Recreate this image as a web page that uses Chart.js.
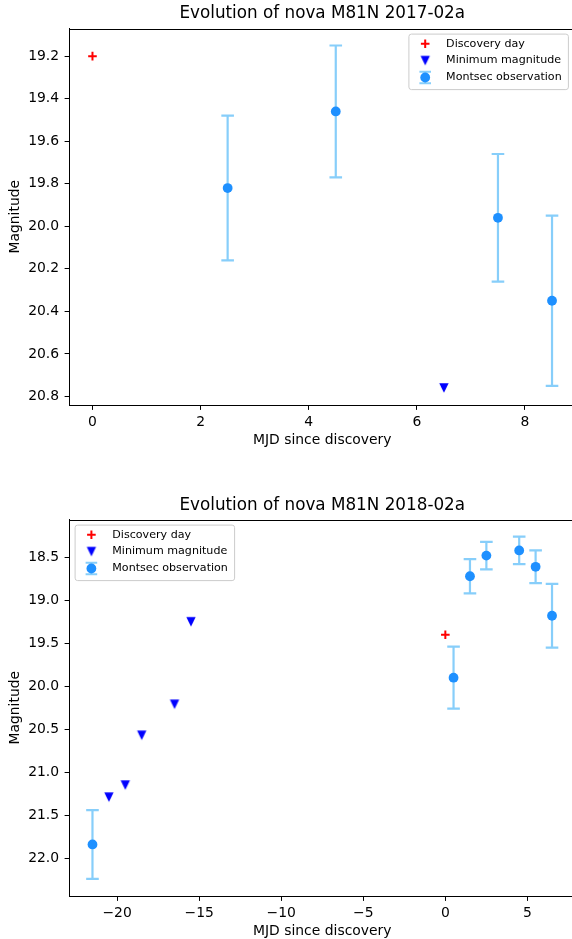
<!DOCTYPE html>
<html><head><meta charset="utf-8">
<script src="https://cdn.jsdelivr.net/npm/chart.js@4.4.0/dist/chart.umd.min.js"></script>
<style>
html,body{margin:0;padding:0;background:#fff;overflow:hidden;width:572px;height:939px;position:relative;}
canvas{position:absolute;left:0;}
#c1{top:0;} #c2{top:491px;}
</style></head><body>
<canvas id="c1" width="576" height="448"></canvas>
<canvas id="c2" width="576" height="448"></canvas>
<script>
// ---------- data: nova M81N 2017-02a ----------
const title17 = "Evolution of nova M81N 2017-02a";
const discX17 = [0];
const discY17 = [19.2];
const minX17 = [6.5];
const minY17 = [20.76];
const obsX17 = [2.5, 4.5, 7.5, 8.5];
const obsY17 = [19.82, 19.46, 19.96, 20.35];
const obsErr17 = [0.34, 0.31, 0.30, 0.40];
const xTicks17 = [0, 2, 4, 6, 8];
const yTicks17 = [19.2, 19.4, 19.6, 19.8, 20.0, 20.2, 20.4, 20.6, 20.8];
const xRange17 = [-0.425, 8.925];
const yRange17 = [19.07, 20.84];

// ---------- data: nova M81N 2018-02a ----------
const title18 = "Evolution of nova M81N 2018-02a";
const discX18 = [0];
const discY18 = [19.4];
const minX18 = [-20.5, -19.5, -18.5, -16.5, -15.5];
const minY18 = [21.29, 21.15, 20.57, 20.21, 19.25];
const obsX18 = [-21.5, 0.5, 1.5, 2.5, 4.5, 5.5, 6.5];
const obsY18 = [21.84, 19.90, 18.72, 18.48, 18.42, 18.61, 19.18];
const obsErr18 = [0.40, 0.36, 0.20, 0.16, 0.16, 0.19, 0.37];
const xTicks18 = [-20, -15, -10, -5, 0, 5];
const yTicks18 = [18.5, 19.0, 19.5, 20.0, 20.5, 21.0, 21.5, 22.0];
const xRange18 = [-22.9, 7.9];
const yRange18 = [18.06, 22.44];

const labels = ["Discovery day", "Minimum magnitude", "Montsec observation"];
const xLabel = "MJD since discovery";
const yLabel = "Magnitude";

// ---------- styling ----------
const FONT = "'DejaVu Sans', sans-serif";
const RED = '#ff0000', BLUE = '#0000ff', DODGER = '#1e90ff', SKY = '#87cefa';

function triangleDown(size, color) {
  const c = document.createElement('canvas');
  const w = Math.ceil(size) + 2;
  c.width = w; c.height = w;
  const g = c.getContext('2d');
  const h = size / 2, m = w / 2;
  g.fillStyle = color;
  g.beginPath();
  g.moveTo(m - h, m - h); g.lineTo(m + h, m - h); g.lineTo(m, m + h);
  g.closePath(); g.fill();
  return c;
}
const TRI = triangleDown(9.4, BLUE);

const zip = (xs, ys) => xs.map((x, i) => ({x: x, y: ys[i]}));

const errorBars = {
  id: 'errorBars',
  beforeDatasetsDraw(chart) {
    const {ctx, scales: {x, y}} = chart;
    chart.data.datasets.forEach(ds => {
      if (!ds.errors) return;
      ctx.save();
      ctx.strokeStyle = SKY; ctx.lineWidth = 2.2;
      ds.data.forEach((p, i) => {
        const px = x.getPixelForValue(p.x);
        const y1 = y.getPixelForValue(p.y - ds.errors[i]);
        const y2 = y.getPixelForValue(p.y + ds.errors[i]);
        ctx.beginPath();
        ctx.moveTo(px, y1); ctx.lineTo(px, y2);
        ctx.moveTo(px - 6.3, y1); ctx.lineTo(px + 6.3, y1);
        ctx.moveTo(px - 6.3, y2); ctx.lineTo(px + 6.3, y2);
        ctx.stroke();
      });
      ctx.restore();
    });
  }
};

const frame = {
  id: 'frame',
  afterDraw(chart, args, opts) {
    const {ctx, chartArea: a} = chart;
    ctx.save();
    ctx.strokeStyle = '#000'; ctx.lineWidth = 1;
    ctx.beginPath();
    ctx.moveTo(a.left, Math.round(a.top) + 0.5);
    ctx.lineTo(a.right, Math.round(a.top) + 0.5);
    ctx.lineTo(a.right, a.bottom);
    ctx.stroke();
    // title, centered over plot area
    ctx.fillStyle = '#000';
    ctx.font = "16.8px " + FONT;
    ctx.textAlign = 'center'; ctx.textBaseline = 'middle';
    ctx.fillText(opts.text, (a.left + a.right) / 2, opts.y);
    ctx.restore();
  }
};

function drawMarker(ctx, ds, cx, cy) {
  if (ds.errors) {
    ctx.strokeStyle = SKY; ctx.lineWidth = 2;
    ctx.beginPath();
    ctx.moveTo(cx, cy - 5.8); ctx.lineTo(cx, cy + 5.8);
    ctx.moveTo(cx - 5.8, cy - 5.8); ctx.lineTo(cx + 5.8, cy - 5.8);
    ctx.moveTo(cx - 5.8, cy + 5.8); ctx.lineTo(cx + 5.8, cy + 5.8);
    ctx.stroke();
  }
  if (ds.pointStyle === 'cross') {
    ctx.strokeStyle = ds.borderColor; ctx.lineWidth = ds.borderWidth;
    const r = ds.pointRadius;
    ctx.beginPath();
    ctx.moveTo(cx - r, cy); ctx.lineTo(cx + r, cy);
    ctx.moveTo(cx, cy - r); ctx.lineTo(cx, cy + r);
    ctx.stroke();
  } else if (ds.pointStyle === 'circle') {
    ctx.fillStyle = ds.backgroundColor;
    ctx.beginPath(); ctx.arc(cx, cy, ds.pointRadius, 0, Math.PI * 2); ctx.fill();
  } else {
    const img = ds.pointStyle;
    ctx.drawImage(img, cx - img.width / 2, cy - img.height / 2);
  }
}

const boxLegend = {
  id: 'boxLegend',
  afterDatasetsDraw(chart, args, opts) {
    const {ctx, chartArea: a} = chart;
    const w = 159.5, h = 55.5, pad = 5.6;
    const x0 = opts.corner === 'right' ? a.right - pad - w - 1 : a.left + pad;
    const y0 = a.top + pad;
    ctx.save();
    ctx.beginPath();
    ctx.roundRect(x0, y0, w, h, 2.5);
    ctx.fillStyle = 'rgba(255,255,255,0.8)'; ctx.fill();
    ctx.strokeStyle = '#cccccc'; ctx.lineWidth = 1; ctx.stroke();
    chart.data.datasets.forEach((ds, i) => {
      const cy = y0 + 9.6 + i * 16.9;
      drawMarker(ctx, ds, x0 + 16.3, cy);
      ctx.fillStyle = '#000';
      ctx.font = "11.1px " + FONT;
      ctx.textAlign = 'left'; ctx.textBaseline = 'middle';
      ctx.fillText(ds.label, x0 + 37.2, cy);
    });
    ctx.restore();
  }
};

function makeChart(id, t, titleY, disc, mins, obs, err, xt, yt, xr, yr, corner) {
  const datasets = [
    {label: labels[0], data: disc, pointStyle: 'cross', pointRadius: 4.3, borderWidth: 2,
     borderColor: RED, backgroundColor: RED, showLine: false},
    {label: labels[1], data: mins, pointStyle: TRI, pointRadius: 5, borderWidth: 0,
     borderColor: BLUE, backgroundColor: BLUE, showLine: false},
    {label: labels[2], data: obs, errors: err, pointStyle: 'circle', pointRadius: 4.9, borderWidth: 0,
     borderColor: DODGER, backgroundColor: DODGER, showLine: false}
  ];
  const tickFont = {family: FONT, size: 13.9};
  return new Chart(document.getElementById(id), {
    type: 'scatter',
    data: {datasets: datasets},
    options: {
      responsive: false, animation: false, devicePixelRatio: 1, events: [],
      layout: {autoPadding: false, padding: {top: 28.5, right: 1, left: 0, bottom: 0}},
      plugins: {
        legend: {display: false}, tooltip: {enabled: false},
        frame: {text: t, y: titleY},
        boxLegend: {corner: corner}
      },
      scales: {
        x: {
          type: 'linear', min: xr[0], max: xr[1],
          afterBuildTicks: s => { s.ticks = xt.map(v => ({value: v})); },
          afterFit: s => { s.height = 43; s.paddingLeft = 0; s.paddingRight = 0; },
          ticks: {font: tickFont, color: '#000', padding: 4, maxRotation: 0,
                  callback: v => String(v).replace('-', '\u2212')},
          grid: {drawOnChartArea: false, drawTicks: true, tickLength: 4.9, tickWidth: 1, color: '#000'},
          border: {display: true, color: '#000', width: 1},
          title: {display: true, text: xLabel, color: '#000',
                  font: {family: FONT, size: 13.9, lineHeight: 1.1}, padding: {top: 0, bottom: 0}}
        },
        y: {
          type: 'linear', reverse: true, min: yr[0], max: yr[1],
          afterBuildTicks: s => { s.ticks = yt.map(v => ({value: v})); },
          afterFit: s => { s.width = 69.5; s.paddingTop = 0; s.paddingBottom = 0; },
          ticks: {font: tickFont, color: '#000', padding: 5.5,
                  callback: v => Number(v).toFixed(1)},
          grid: {drawOnChartArea: false, drawTicks: true, tickLength: 4.9, tickWidth: 1, color: '#000'},
          border: {display: true, color: '#000', width: 1},
          title: {display: true, text: yLabel, color: '#000',
                  font: {family: FONT, size: 13.9, lineHeight: 1.2}, padding: {top: 6.7, bottom: 0}}
        }
      }
    },
    plugins: [errorBars, frame, boxLegend]
  });
}

makeChart('c1', title17, 13.7, zip(discX17, discY17), zip(minX17, minY17), zip(obsX17, obsY17), obsErr17,
          xTicks17, yTicks17, xRange17, yRange17, 'right');
makeChart('c2', title18, 14.7, zip(discX18, discY18), zip(minX18, minY18), zip(obsX18, obsY18), obsErr18,
          xTicks18, yTicks18, xRange18, yRange18, 'left');
</script>
</body></html>
